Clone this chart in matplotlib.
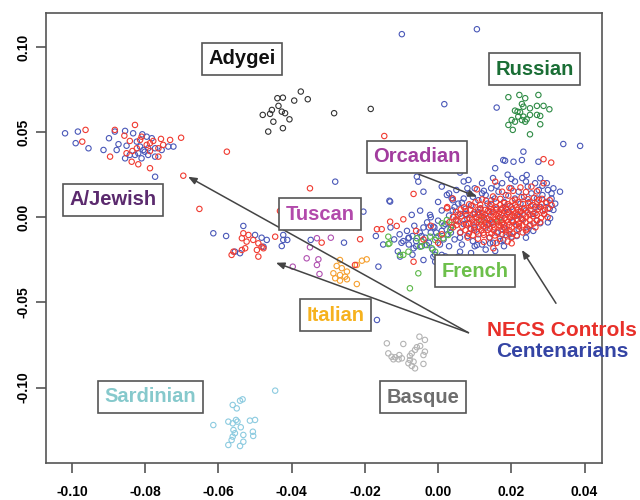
import matplotlib
matplotlib.use("Agg")
import matplotlib.pyplot as plt

plt.rcParams['font.family'] = ['Liberation Sans', 'DejaVu Sans']

# ---------------- data (PC1, PC2) ----------------
adygei = [(-0.0375, 0.0738), (-0.0356, 0.0693), (-0.0393, 0.0685), (-0.0439, 0.0699), (-0.0424, 0.0702),
          (-0.0436, 0.0654), (-0.0454, 0.0630), (-0.0479, 0.0601), (-0.0459, 0.0607), (-0.0427, 0.0620),
          (-0.0418, 0.0611), (-0.0450, 0.0561), (-0.0406, 0.0575), (-0.0464, 0.0503), (-0.0424, 0.0523),
          (-0.0284, 0.0611), (-0.0184, 0.0636)]

russian = [(0.0192, 0.0705), (0.0222, 0.0718), (0.0238, 0.0699), (0.0274, 0.0718), (0.0229, 0.0665),
           (0.0233, 0.0649), (0.0210, 0.0626), (0.0217, 0.0620), (0.0224, 0.0617), (0.0251, 0.0640),
           (0.0270, 0.0654), (0.0288, 0.0654), (0.0304, 0.0634), (0.0251, 0.0601), (0.0270, 0.0601),
           (0.0279, 0.0595), (0.0201, 0.0571), (0.0210, 0.0561), (0.0229, 0.0571), (0.0238, 0.0561),
           (0.0242, 0.0575), (0.0192, 0.0542), (0.0204, 0.0513), (0.0279, 0.0546), (0.0251, 0.0487),
           (0.0233, 0.0591), (0.0219, 0.0591)]

sardinian = [(-0.0445, -0.1018), (-0.0534, -0.1069), (-0.0541, -0.1077), (-0.0561, -0.1102), (-0.0550, -0.1122),
             (-0.0552, -0.1190), (-0.0573, -0.1200), (-0.0561, -0.1210), (-0.0548, -0.1200), (-0.0514, -0.1194),
             (-0.0500, -0.1190), (-0.0539, -0.1233), (-0.0559, -0.1249), (-0.0555, -0.1268), (-0.0506, -0.1259),
             (-0.0532, -0.1278), (-0.0505, -0.1284), (-0.0561, -0.1288), (-0.0564, -0.1308), (-0.0532, -0.1318),
             (-0.0573, -0.1337), (-0.0541, -0.1343), (-0.0614, -0.1220)]

basque = [(-0.0140, -0.0740), (-0.0095, -0.0744), (-0.0051, -0.0701), (-0.0036, -0.0720), (-0.0049, -0.0756),
          (-0.0058, -0.0763), (-0.0063, -0.0779), (-0.0072, -0.0799), (-0.0077, -0.0814), (-0.0036, -0.0789),
          (-0.0040, -0.0809), (-0.0136, -0.0799), (-0.0127, -0.0819), (-0.0117, -0.0822), (-0.0106, -0.0809),
          (-0.0099, -0.0828), (-0.0077, -0.0838), (-0.0067, -0.0848), (-0.0081, -0.0857), (-0.0072, -0.0873),
          (-0.0040, -0.0861), (-0.0063, -0.0887), (-0.0108, -0.0834), (-0.0122, -0.0834)]

tuscan = [(-0.0331, -0.0123), (-0.0293, -0.0120), (-0.0350, -0.0176), (-0.0359, -0.0241), (-0.0327, -0.0247),
          (-0.0331, -0.0280), (-0.0397, -0.0290), (-0.0324, -0.0333)]

italian = [(-0.0268, -0.0251), (-0.0277, -0.0286), (-0.0263, -0.0299), (-0.0249, -0.0319), (-0.0286, -0.0329),
           (-0.0268, -0.0339), (-0.0254, -0.0349), (-0.0281, -0.0358), (-0.0268, -0.0372), (-0.0249, -0.0364),
           (-0.0222, -0.0392), (-0.0195, -0.0247), (-0.0208, -0.0255), (-0.0222, -0.0280)]

french = [(-0.0058, -0.0123), (-0.0045, -0.0143), (-0.0036, -0.0163), (-0.0022, -0.0114), (-0.0008, -0.0133),
          (0.0001, -0.0110), (0.0014, -0.0123), (0.0028, -0.0104), (0.0033, -0.0075), (0.0010, -0.0035),
          (0.0024, -0.0016), (0.0037, -0.0045), (-0.0133, -0.0153), (-0.0104, -0.0221), (-0.0017, -0.0182),
          (-0.0008, -0.0202), (-0.0049, -0.0173), (-0.0095, -0.0221), (-0.0081, -0.0202), (-0.0054, -0.0329),
          (-0.0077, -0.0417), (0.0119, -0.0016), (0.0165, -0.0026), (-0.0136, -0.0157), (-0.0136, -0.0114)]

centenarians = [
    # A/Jewish
    (-0.1019, 0.0493), (-0.0984, 0.0503), (-0.0990, 0.0435), (-0.0955, 0.0405), (-0.0914, 0.0395),
    (-0.0899, 0.0464), (-0.0883, 0.0503), (-0.0855, 0.0507), (-0.0833, 0.0493), (-0.0808, 0.0487),
    (-0.0796, 0.0473), (-0.0782, 0.0464), (-0.0873, 0.0429), (-0.0878, 0.0395), (-0.0851, 0.0420),
    (-0.0823, 0.0444), (-0.0814, 0.0415), (-0.0805, 0.0395), (-0.0792, 0.0405), (-0.0773, 0.0405),
    (-0.0755, 0.0395), (-0.0737, 0.0415), (-0.0723, 0.0415), (-0.0855, 0.0346), (-0.0842, 0.0366),
    (-0.0828, 0.0366), (-0.0810, 0.0346), (-0.0792, 0.0366), (-0.0773, 0.0356), (-0.0773, 0.0238),
    (-0.0801, 0.0385), (-0.0819, 0.0376),
    # Tuscan / Italian area
    (-0.0281, 0.0209), (-0.0131, 0.0092), (-0.0204, 0.0033), (-0.0614, -0.0094), (-0.0579, -0.0110),
    (-0.0532, -0.0051), (-0.0500, -0.0104), (-0.0482, -0.0120), (-0.0468, -0.0133), (-0.0423, -0.0104),
    (-0.0412, -0.0133), (-0.0427, -0.0169), (-0.0348, -0.0133), (-0.0257, -0.0149), (-0.0541, -0.0211),
    (-0.0555, -0.0202), (-0.0163, -0.0290), (-0.0104, -0.0231), (-0.0477, -0.0173), (-0.0423, -0.0133),
    (-0.0167, -0.0603),
    # scattered outliers
    (-0.0099, 0.1075), (0.0106, 0.1104), (0.0017, 0.0664), (0.0160, 0.0644), (0.0183, 0.0332),
    (0.0156, 0.0288), (0.0178, 0.0336), (0.0206, 0.0326), (0.0229, 0.0336), (0.0233, 0.0385),
    (0.0274, 0.0326), (0.0342, 0.0430), (0.0388, 0.0419), (0.0060, 0.0262), (0.0083, 0.0219),
    (-0.0058, 0.0238), (-0.0054, 0.0209), (0.0024, 0.0131), (0.0037, 0.0112), (-0.0133, 0.0097),
    (-0.0072, 0.0014), (-0.0049, 0.0039), (-0.0022, 0.0014), (-0.0013, -0.0055), (-0.0081, -0.0123),
    (-0.0067, -0.0182), (-0.0031, -0.0163), (-0.0008, -0.0221), (-0.0040, -0.0251), (0.0051, -0.0241),
    (0.0060, -0.0202), (0.0106, -0.0163), (0.0142, -0.0153), (0.0178, -0.0133), (0.0201, -0.0114),
    (0.0242, -0.0085), (0.0279, -0.0035), (0.0306, -0.0006), (0.0315, 0.0043), (0.0333, 0.0150),
    (0.0315, 0.0170), (0.0297, 0.0200), (0.0279, 0.0229), (0.0242, 0.0248),
    (-0.0013, -0.0231), (-0.0008, -0.0261), (0.0010, -0.0221), (0.0055, -0.0231), (0.0156, -0.0198),
    # main cluster
    (-0.0120, -0.0130), (-0.0105, -0.0100), (-0.0095, -0.0140), (-0.0085, -0.0080), (-0.0080, -0.0160),
    (-0.0070, -0.0110), (-0.0065, -0.0050), (-0.0060, -0.0140), (-0.0050, -0.0090), (-0.0045, -0.0170),
    (-0.0040, -0.0060), (-0.0035, -0.0120), (-0.0030, -0.0030), (-0.0025, -0.0150), (-0.0020, -0.0090),
    (-0.0015, -0.0190), (-0.0010, -0.0060), (-0.0005, -0.0120), (0.0000, -0.0020), (0.0005, -0.0160),
    (0.0010, -0.0080), (0.0015, -0.0130), (0.0020, -0.0040), (0.0025, -0.0100), (0.0030, 0.0010),
    (0.0030, -0.0170), (0.0035, -0.0060), (0.0040, 0.0040), (0.0045, -0.0130), (0.0050, -0.0020),
    (0.0055, 0.0080), (0.0060, -0.0090), (0.0060, 0.0020), (0.0065, -0.0160), (0.0070, -0.0040),
    (0.0070, 0.0110), (0.0075, 0.0050), (0.0080, -0.0110), (0.0080, -0.0010), (0.0085, 0.0140),
    (0.0090, 0.0070), (0.0090, -0.0070), (0.0095, -0.0140), (0.0100, 0.0020), (0.0100, 0.0170),
    (0.0105, -0.0030), (0.0110, 0.0100), (0.0110, -0.0100), (0.0115, 0.0050), (0.0120, -0.0160),
    (0.0120, 0.0200), (0.0125, 0.0000), (0.0130, 0.0130), (0.0130, -0.0060), (0.0135, 0.0080),
    (0.0140, -0.0120), (0.0140, 0.0030), (0.0145, 0.0170), (0.0150, -0.0030), (0.0150, 0.0230),
    (0.0155, 0.0110), (0.0160, -0.0090), (0.0160, 0.0050), (0.0165, 0.0150), (0.0170, -0.0140),
    (0.0170, 0.0000), (0.0175, 0.0200), (0.0180, 0.0090), (0.0180, -0.0060), (0.0185, 0.0130),
    (0.0190, 0.0030), (0.0190, 0.0250), (0.0195, -0.0100), (0.0200, 0.0170), (0.0200, 0.0060),
    (0.0205, -0.0030), (0.0210, 0.0110), (0.0210, 0.0210), (0.0215, 0.0010), (0.0220, -0.0070),
    (0.0220, 0.0150), (0.0225, 0.0080), (0.0230, 0.0230), (0.0230, -0.0010), (0.0235, 0.0120),
    (0.0240, 0.0040), (0.0245, 0.0180), (0.0250, -0.0050), (0.0250, 0.0090), (0.0255, 0.0140),
    (0.0260, 0.0020), (0.0265, 0.0200), (0.0270, 0.0110), (0.0270, -0.0020), (0.0275, 0.0160),
    (0.0280, 0.0060), (0.0285, 0.0130), (0.0290, 0.0020), (0.0295, 0.0090), (0.0300, 0.0160),
    (0.0305, 0.0050), (0.0310, 0.0110), (-0.0040, 0.0150), (0.0000, 0.0090), (0.0010, 0.0180),
    (0.0050, 0.0160), (0.0070, 0.0210), (0.0040, 0.0100), (0.0020, -0.0230), (0.0090, -0.0210),
    (0.0130, -0.0190), (0.0180, -0.0170), (0.0240, -0.0120), (-0.0070, -0.0220), (-0.0110, -0.0200),
    (-0.0150, -0.0160), (-0.0130, -0.0060), (-0.0170, -0.0110),
    (0.0065, 0.0085), (0.0095, 0.0120), (0.0125, 0.0155), (0.0160, 0.0185), (0.0200, 0.0225),
    (0.0240, 0.0210), (0.0285, 0.0185), (0.0310, 0.0140), (0.0320, 0.0080), (0.0300, -0.0030),
    (0.0260, -0.0080), (0.0215, -0.0110), (0.0175, -0.0100), (0.0150, -0.0150), (0.0100, -0.0170),
    (0.0060, -0.0120), (0.0035, -0.0090), (0.0015, -0.0050), (-0.0005, -0.0090), (-0.0025, -0.0060),
    (-0.0045, -0.0110), (-0.0060, -0.0170), (-0.0080, -0.0120), (-0.0100, -0.0150), (0.0045, 0.0060),
    (0.0075, 0.0020), (0.0110, 0.0030), (0.0145, 0.0100), (0.0185, 0.0050), (0.0225, 0.0030),
    (0.0265, 0.0060), (0.0100, -0.0060), (0.0140, -0.0040), (0.0120, 0.0140), (0.0080, 0.0170),
    (0.0030, 0.0140), (0.0010, 0.0040), (-0.0020, 0.0000),
]

controls = [
    # A/Jewish
    (-0.0963, 0.0513), (-0.0972, 0.0444), (-0.0883, 0.0513), (-0.0857, 0.0479), (-0.0828, 0.0542),
    (-0.0814, 0.0454), (-0.0810, 0.0473), (-0.0787, 0.0435), (-0.0778, 0.0448), (-0.0757, 0.0460),
    (-0.0732, 0.0454), (-0.0702, 0.0467), (-0.0896, 0.0356), (-0.0851, 0.0376), (-0.0835, 0.0389),
    (-0.0823, 0.0405), (-0.0787, 0.0389), (-0.0764, 0.0405), (-0.0751, 0.0425), (-0.0837, 0.0326),
    (-0.0819, 0.0311), (-0.0787, 0.0288), (-0.0764, 0.0356), (-0.0696, 0.0244), (-0.0796, 0.0425),
    (-0.0842, 0.0448), (-0.0577, 0.0385), (-0.0652, 0.0049), (-0.0350, 0.0170), (-0.0432, 0.0037),
    # Tuscan / Italian area
    (-0.0268, 0.0076), (-0.0131, -0.0026), (-0.0167, -0.0070), (-0.0154, -0.0070), (-0.0113, -0.0051),
    (-0.0532, -0.0094), (-0.0518, -0.0104), (-0.0536, -0.0123), (-0.0505, -0.0133), (-0.0491, -0.0153),
    (-0.0482, -0.0173), (-0.0523, -0.0143), (-0.0559, -0.0202), (-0.0536, -0.0192), (-0.0564, -0.0221),
    (-0.0491, -0.0231), (-0.0445, -0.0114), (-0.0318, -0.0149), (-0.0213, -0.0129), (-0.0495, -0.0192),
    (-0.0477, -0.0182), (-0.0227, -0.0280), (-0.0527, -0.0182),
    # scattered outliers
    (-0.0147, 0.0477), (-0.0067, 0.0137), (0.0288, 0.0341), (0.0309, 0.0321), (0.0106, 0.0164),
    (0.0156, 0.0209), (0.0288, 0.0200), (-0.0095, -0.0012), (0.0024, 0.0053), (-0.0067, -0.0261),
    (0.0151, -0.0182), (0.0201, -0.0153), (0.0005, -0.0241),
    (-0.0060, -0.0080), (-0.0020, -0.0050), (0.0010, -0.0100), (-0.0040, -0.0130), (0.0000, -0.0150),
    (0.0025, 0.0060), (0.0040, 0.0110),
    # main cluster
    (0.0150, 0.0122), (0.0192, 0.0127), (0.0228, 0.0118), (0.0262, 0.0114), (0.0284, 0.0108),
    (0.0102, 0.0088), (0.0131, 0.0097), (0.0158, 0.0091), (0.0181, 0.0083), (0.0203, 0.0096),
    (0.0219, 0.0088), (0.0246, 0.0084), (0.0271, 0.0092), (0.0296, 0.0083),
    (0.0071, 0.0058), (0.0094, 0.0067), (0.0116, 0.0053), (0.0141, 0.0066), (0.0159, 0.0058),
    (0.0176, 0.0054), (0.0196, 0.0067), (0.0214, 0.0059), (0.0236, 0.0053), (0.0254, 0.0066),
    (0.0276, 0.0061), (0.0301, 0.0054),
    (0.0049, 0.0031), (0.0076, 0.0036), (0.0099, 0.0029), (0.0121, 0.0024), (0.0136, 0.0037),
    (0.0149, 0.0031), (0.0166, 0.0023), (0.0181, 0.0036), (0.0194, 0.0029), (0.0211, 0.0024),
    (0.0226, 0.0036), (0.0244, 0.0031), (0.0266, 0.0024), (0.0286, 0.0036),
    (0.0041, 0.0001), (0.0064, 0.0006), (0.0086, -0.0004), (0.0104, 0.0001), (0.0121, 0.0006),
    (0.0134, -0.0006), (0.0151, 0.0001), (0.0164, 0.0006), (0.0181, -0.0004), (0.0196, 0.0001),
    (0.0209, 0.0006), (0.0226, -0.0004), (0.0241, 0.0001), (0.0259, 0.0006), (0.0281, -0.0004),
    (0.0299, 0.0001),
    (0.0031, -0.0029), (0.0054, -0.0024), (0.0081, -0.0036), (0.0099, -0.0029), (0.0116, -0.0024),
    (0.0129, -0.0036), (0.0146, -0.0029), (0.0161, -0.0024), (0.0174, -0.0036), (0.0191, -0.0029),
    (0.0204, -0.0024), (0.0221, -0.0036), (0.0239, -0.0029), (0.0261, -0.0036), (0.0279, -0.0029),
    (0.0041, -0.0059), (0.0066, -0.0054), (0.0089, -0.0066), (0.0111, -0.0059), (0.0124, -0.0054),
    (0.0141, -0.0066), (0.0154, -0.0059), (0.0171, -0.0054), (0.0184, -0.0066), (0.0201, -0.0059),
    (0.0221, -0.0054), (0.0244, -0.0066), (0.0266, -0.0059),
    (0.0061, -0.0089), (0.0084, -0.0096), (0.0106, -0.0084), (0.0124, -0.0091), (0.0146, -0.0096),
    (0.0164, -0.0089), (0.0186, -0.0084), (0.0204, -0.0096), (0.0231, -0.0089),
    (0.0081, -0.0119), (0.0109, -0.0126), (0.0141, -0.0119), (0.0169, -0.0126), (0.0201, -0.0119),
    (0.0120, 0.0105), (0.0170, 0.0108), (0.0210, 0.0103), (0.0245, 0.0106), (0.0275, 0.0102),
    (0.0305, 0.0100),
    (0.0085, 0.0076), (0.0115, 0.0073), (0.0145, 0.0078), (0.0170, 0.0072), (0.0190, 0.0077),
    (0.0210, 0.0074), (0.0232, 0.0078), (0.0258, 0.0072), (0.0283, 0.0076), (0.0310, 0.0071),
    (0.0062, 0.0046), (0.0088, 0.0044), (0.0110, 0.0047), (0.0128, 0.0043), (0.0144, 0.0048),
    (0.0158, 0.0042), (0.0172, 0.0046), (0.0188, 0.0044), (0.0203, 0.0047), (0.0218, 0.0043),
    (0.0234, 0.0046), (0.0252, 0.0044), (0.0272, 0.0047), (0.0292, 0.0043),
    (0.0055, 0.0016), (0.0078, 0.0013), (0.0095, 0.0017), (0.0112, 0.0014), (0.0128, 0.0016),
    (0.0143, 0.0012), (0.0158, 0.0017), (0.0173, 0.0014), (0.0188, 0.0016), (0.0203, 0.0013),
    (0.0218, 0.0017), (0.0233, 0.0014), (0.0250, 0.0016), (0.0270, 0.0013), (0.0290, 0.0017),
    (0.0048, -0.0014), (0.0072, -0.0017), (0.0093, -0.0013), (0.0110, -0.0016), (0.0126, -0.0014),
    (0.0142, -0.0017), (0.0157, -0.0013), (0.0172, -0.0016), (0.0187, -0.0014), (0.0202, -0.0017),
    (0.0217, -0.0013), (0.0232, -0.0016), (0.0250, -0.0014), (0.0270, -0.0017),
    (0.0050, -0.0046), (0.0076, -0.0043), (0.0098, -0.0047), (0.0118, -0.0044), (0.0134, -0.0046),
    (0.0150, -0.0043), (0.0165, -0.0047), (0.0180, -0.0044), (0.0195, -0.0046), (0.0212, -0.0043),
    (0.0230, -0.0047), (0.0252, -0.0044),
    (0.0075, -0.0076), (0.0098, -0.0073), (0.0118, -0.0077), (0.0135, -0.0074), (0.0152, -0.0076),
    (0.0176, -0.0073), (0.0195, -0.0077), (0.0215, -0.0074), (0.0240, -0.0076),
    (0.0095, -0.0106), (0.0125, -0.0103), (0.0155, -0.0107), (0.0185, -0.0104), (0.0215, -0.0106),
    (0.0175, 0.0150), (0.0205, 0.0155), (0.0240, 0.0148), (0.0270, 0.0152), (0.0225, 0.0175),
    (0.0255, 0.0180), (0.0195, 0.0172),
    (0.0125, -0.0145), (0.0160, -0.0150), (0.0190, -0.0142),
]

# population labels: (text, x, y, colour)
labels = [
    ("Adygei", -0.0536, 0.0930, "#111111"),
    ("Russian", 0.0263, 0.0868, "#1a6e35"),
    ("A/Jewish", -0.0889, 0.0103, "#5b2a6e"),
    ("Orcadian", -0.0058, 0.0356, "#a23c9e"),
    ("Tuscan", -0.0322, 0.0018, "#b24aab"),
    ("French", 0.0100, -0.0317, "#6cbf4a"),
    ("Italian", -0.0281, -0.0574, "#f6b21e"),
    ("Sardinian", -0.0786, -0.1055, "#86c9cc"),
    ("Basque", -0.0041, -0.1056, "#6e6e6e"),
]

# arrows: (start, end)
arrows = [
    ((0.0083, -0.0678), (-0.0683, 0.0238)),
    ((0.0083, -0.0678), (-0.0443, -0.0267)),
    ((0.0322, -0.0505), (0.0229, -0.0192)),
    ((-0.0052, 0.0252), (0.0106, 0.0121)),
]

xticks = [-0.10, -0.08, -0.06, -0.04, -0.02, 0.00, 0.02, 0.04]
yticks = [-0.10, -0.05, 0.00, 0.05, 0.10]

# ---------------- drawing ----------------
fig = plt.figure(figsize=(6.4, 5.0), dpi=100)
ax = fig.add_axes([0.0719, 0.0746, 0.8683, 0.9000])

def pts(group, color, z=2):
    xs = [p[0] for p in group]
    ys = [p[1] for p in group]
    ax.scatter(xs, ys, s=15, facecolors="none", edgecolors=color, linewidths=0.8, zorder=z)

pts(adygei, "#333333")
pts(russian, "#2e8b45")
pts(sardinian, "#8ccbe0")
pts(basque, "#b3b3b3")
pts(tuscan, "#b050b0")
pts(italian, "#f5a030")
pts(centenarians, "#4a58b8", 3)
pts(controls, "#f03a30", 4)
pts(french, "#5cb848", 3.5)

for (x0, y0), (x1, y1) in arrows:
    ax.annotate("", xy=(x1, y1), xytext=(x0, y0),
                arrowprops=dict(arrowstyle="-|>,head_length=0.5,head_width=0.2",
                                color="#444444", lw=1.1, shrinkA=0, shrinkB=0), zorder=5)

for text, x, y, c in labels:
    ax.text(x, y, text, color=c, fontsize=14.5, fontweight="bold", ha="center", va="center",
            zorder=6, bbox=dict(boxstyle="square,pad=0.32", facecolor="white",
                                edgecolor="#555555", linewidth=1.2))

ax.text(0.0338, -0.0662, "NECS Controls", color="#e8302a", fontsize=15, fontweight="bold",
        ha="center", va="center", zorder=7, clip_on=False)
ax.text(0.0339, -0.0789, "Centenarians", color="#3444a4", fontsize=15, fontweight="bold",
        ha="center", va="center", zorder=7, clip_on=False)

ax.set_xlim(-0.1071, 0.0447)
ax.set_ylim(-0.1441, 0.1201)
ax.set_xticks(xticks)
ax.set_yticks(yticks)
ax.set_xticklabels([f"{v:.2f}" for v in xticks], fontsize=10, fontweight="bold")
ax.set_yticklabels([f"{v:.2f}" for v in yticks], fontsize=10, fontweight="bold",
                   rotation=90, va="center")
ax.tick_params(direction="out", length=7, width=1.2, color="#555555", pad=4)
ax.tick_params(axis="x", pad=9)
for sp in ax.spines.values():
    sp.set_linewidth(1.2)
    sp.set_color("#555555")

fig.savefig("out.png", dpi=100)
